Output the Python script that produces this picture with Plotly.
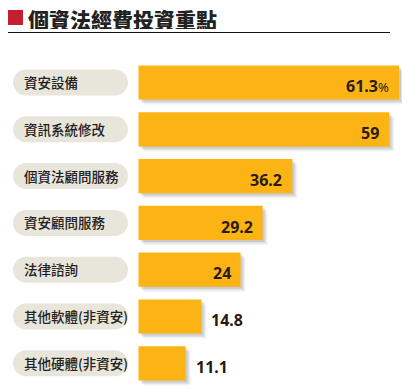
import plotly.graph_objects as go

title = "個資法經費投資重點"
categories = ["資安設備", "資訊系統修改", "個資法顧問服務", "資安顧問服務", "法律諮詢", "其他軟體(非資安)", "其他硬體(非資安)"]
values = [61.3, 59, 36.2, 29.2, 24, 14.8, 11.1]
inside = [True, True, True, True, True, False, False]

OFF = 8  # page body margin in the browser
W, H = 410 - OFF, 390 - OFF
x0px, pxu = 138.5 - OFF, 4.25          # zero position and px per unit
y0px, pitch = 82.5 - OFF, 46.8         # first bar centre, px per category
xr = [-x0px / pxu, (W - x0px) / pxu]
yr = [(H - y0px) / pitch, -y0px / pitch]

BAR = "#FCB415"
idx = list(range(len(categories)))
bw = 0.73

fig = go.Figure()
# soft shadow layers
for dx, dy, a in [(5, 5, 0.05), (3.5, 3.5, 0.07), (2, 2, 0.09)]:
    fig.add_trace(go.Bar(x=values, y=idx, orientation="h", base=dx / pxu,
                         width=bw, offset=-bw / 2 + dy / pitch,
                         marker=dict(color=f"rgba(0,0,0,{a})", line=dict(width=0)),
                         hoverinfo="skip", showlegend=False))
fig.add_trace(go.Bar(x=values, y=idx, orientation="h", width=bw,
                     marker=dict(color=BAR, line=dict(width=0)), showlegend=False))

shapes = []
annotations = []


def X(px):
    return (px - OFF - x0px) / pxu


def PX(px):
    return (px - OFF) / W


def PY(py):
    return 1 - (py - OFF) / H


# pills
r_px = 13
px_l, px_r = 13, 128
for i, c in enumerate(categories):
    cy = i
    ry = r_px / pitch
    yt, yb = cy - ry, cy + ry
    xl, xr_ = X(px_l), X(px_r)
    rx = r_px / pxu
    k = 0.5523
    path = (f"M {xl+rx},{yt} L {xr_-rx},{yt} "
            f"C {xr_-rx+k*rx},{yt} {xr_},{cy-k*ry} {xr_},{cy} "
            f"C {xr_},{cy+k*ry} {xr_-rx+k*rx},{yb} {xr_-rx},{yb} "
            f"L {xl+rx},{yb} "
            f"C {xl+rx-k*rx},{yb} {xl},{cy+k*ry} {xl},{cy} "
            f"C {xl},{cy-k*ry} {xl+rx-k*rx},{yt} {xl+rx},{yt} Z")
    shapes.append(dict(type="path", path=path, xref="x", yref="y",
                       fillcolor="#E8E6DB", line=dict(width=0), layer="below"))
    annotations.append(dict(x=X(22), y=cy - 0.01, xref="x", yref="y", text=c, showarrow=False,
                            xanchor="left", yanchor="middle",
                            font=dict(family="Noto Sans CJK TC", size=13.5, color="#222222",
                                      weight=500)))

for i, (v, ins) in enumerate(zip(values, inside)):
    txt = f"<b>{v:g}</b>"
    if i == 0:
        txt = f"<b>{v:g}</b><span style='font-size:13px'>%</span>"
    annotations.append(dict(x=v, y=i + 0.08, xref="x", yref="y", text=txt, showarrow=False,
                            xanchor="right" if ins else "left", yanchor="middle",
                            xshift=-8 if ins else 8,
                            font=dict(family="Noto Sans", size=16, color="#2B1B0E")))

# title
annotations.append(dict(x=PX(27), y=PY(19), xref="paper", yref="paper", text=title,
                        showarrow=False, xanchor="left", yanchor="middle",
                        height=20, valign="middle", borderpad=0,
                        font=dict(family="Noto Sans CJK TC", size=21, color="#222222",
                                  weight=900)))
shapes.append(dict(type="rect", xref="paper", yref="paper", x0=PX(8), x1=PX(23),
                   y0=PY(25), y1=PY(10), fillcolor="#C41F2E", line=dict(width=0)))
shapes.append(dict(type="line", xref="paper", yref="paper", x0=PX(8), x1=PX(390),
                   y0=PY(32.5), y1=PY(32.5), line=dict(color="#111111", width=1.2)))

fig.update_layout(
    width=W, height=H, margin=dict(l=0, r=0, t=0, b=0),
    paper_bgcolor="white", plot_bgcolor="white", barmode="overlay",
    xaxis=dict(range=xr, visible=False, fixedrange=True),
    yaxis=dict(range=yr, visible=False, fixedrange=True),
    shapes=shapes, annotations=annotations,
)
fig.write_html("out.html")
